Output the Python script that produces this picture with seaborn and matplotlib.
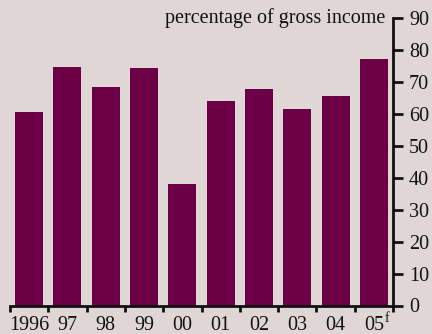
import matplotlib
matplotlib.use("Agg")
import matplotlib.pyplot as plt
import matplotlib.transforms as mtransforms
import seaborn as sns
import pandas as pd

years = ["1996", "97", "98", "99", "00", "01", "02", "03", "04", "05"]
values = [60.7, 74.7, 68.5, 74.4, 38.1, 64.1, 67.9, 61.6, 65.6, 77.2]
y_ticks = [0, 10, 20, 30, 40, 50, 60, 70, 80, 90]
unit_label = "percentage of gross income"
forecast_mark = "f"

BG = "#e0d6d6"
BAR = "#6b0047"
INK = "#111111"

sns.set_style("white")
plt.rcParams["font.family"] = ["Liberation Serif", "DejaVu Serif"]

fig = plt.figure(figsize=(4.32, 3.34), dpi=100, facecolor=BG)
ax = fig.add_axes([10 / 432, 1 - 305.5 / 334, (393 - 10) / 432, (305.5 - 18.4) / 334])
ax.set_facecolor(BG)

df = pd.DataFrame({"year": years, "value": values})
sns.barplot(data=df, x="year", y="value", order=years, color=BAR,
            saturation=1, width=0.73, linewidth=0, edgecolor=BAR, ax=ax)

ax.set_xlim(-0.5, len(years) - 0.5)
ax.set_ylim(0, 90)
ax.set_xlabel("")
ax.set_ylabel("")

for s in ["top", "left"]:
    ax.spines[s].set_visible(False)
for s in ["right", "bottom"]:
    ax.spines[s].set_color(INK)
    ax.spines[s].set_linewidth(2.0)

FS = 14.5
ax.yaxis.tick_right()
ax.set_yticks(y_ticks)
ax.set_yticklabels([str(t) for t in y_ticks])
ax.tick_params(axis="y", which="major", direction="out", length=7.5, width=2.0,
               color=INK, labelsize=FS, labelcolor=INK, pad=4, right=True, left=False)

ax.set_xticks(range(len(years)))
ax.set_xticklabels(years)
ax.tick_params(axis="x", which="major", length=0, labelsize=FS, labelcolor=INK, pad=7.5)
ax.set_xticks([i - 0.5 for i in range(len(years) + 1)], minor=True)
ax.tick_params(axis="x", which="minor", direction="out", length=4.5, width=2.0,
               color=INK, bottom=True)

# superscript forecast mark next to the last label
trans = mtransforms.blended_transform_factory(ax.transData, ax.transAxes)
ax.annotate(forecast_mark, xy=(len(years) - 1, 0), xycoords=trans,
            xytext=(7.5, -9), textcoords="offset points",
            ha="left", va="center", fontsize=10, color=INK)

ax.text(385 / 432, 1 - 18.4 / 334, unit_label, transform=fig.transFigure,
        ha="right", va="center", fontsize=FS, color=INK)

fig.savefig("out.png", dpi=100, facecolor=BG)
